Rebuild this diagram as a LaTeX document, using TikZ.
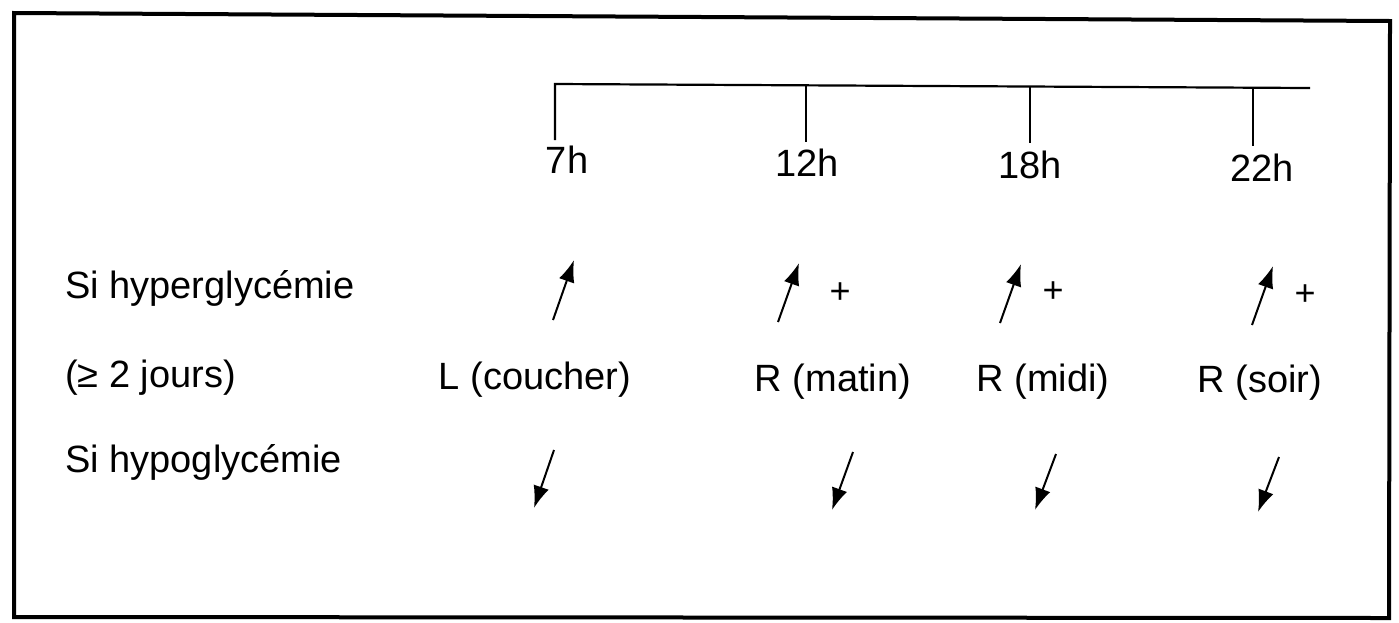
\documentclass[tikz,border=0pt]{standalone}
\usepackage{fontspec}
\setmainfont{Liberation Sans}
\usetikzlibrary{arrows.meta}
\begin{document}
\begin{tikzpicture}[x=1pt,y=-1pt,
  lbl/.style={font=\fontsize{38}{40}\selectfont, inner sep=0pt},
  rowlbl/.style={lbl, anchor=west},
  plus/.style={font=\fontsize{36}{38}\selectfont, inner sep=0pt},
  trend/.style={line width=2pt, -{Latex[length=22pt,width=16pt]}},
  axis/.style={line width=2.2pt},
  frame/.style={line width=4pt}]
\useasboundingbox (0,0) rectangle (1399,622);

% outer frame
\draw[frame] (14,13) -- (1390,21) -- (1389,618) -- (14,617) -- cycle;

% time axis and ticks
\coordinate (a0) at (555,84);
\coordinate (aend) at (1310,88);
\coordinate (t1) at (806,85);   \coordinate (b1) at (806,142);
\coordinate (t2) at (1030,86);  \coordinate (b2) at (1030,143);
\coordinate (t3) at (1253,87);  \coordinate (b3) at (1253,146);
\coordinate (b0) at (555,140);
\node[lbl] (h7)  at (567,160) {7h};
\node[lbl] (h12) at (807,163) {12h};
\node[lbl] (h18) at (1030,165) {18h};
\node[lbl] (h22) at (1262,168) {22h};
\draw[axis] (b0) -- (a0) -- (aend);
\draw[axis] (t1) -- (b1);
\draw[axis] (t2) -- (b2);
\draw[axis] (t3) -- (b3);

% row headings
\node[rowlbl] (hyper) at (65,288) {Si hyperglycémie};
\node[rowlbl] (jours) at (65,378) {(\symbol{"2265} 2 jours)};
\node[rowlbl] (hypo)  at (65,462) {Si hypoglycémie};

% insulin doses
\node[lbl] (L)  at (535,380) {L (coucher)};
\node[lbl] (Rm) at (833,382) {R (matin)};
\node[lbl] (Rd) at (1043,382) {R (midi)};
\node[lbl] (Rs) at (1260,383) {R (soir)};

% increase arrows
\coordinate (u1a) at (553,320); \coordinate (u1b) at (574,260);
\coordinate (u2a) at (778,322); \coordinate (u2b) at (799,263);
\coordinate (u3a) at (1000,323); \coordinate (u3b) at (1021,264);
\coordinate (u4a) at (1252,325); \coordinate (u4b) at (1273,266);
\draw[trend] (u1a) -- (u1b);
\draw[trend] (u2a) -- (u2b);
\draw[trend] (u3a) -- (u3b);
\draw[trend] (u4a) -- (u4b);
\node[plus] (p2) at (840,293) {+};
\node[plus] (p3) at (1053,292) {+};
\node[plus] (p4) at (1305,295) {+};

% decrease arrows
\coordinate (d1a) at (554,450); \coordinate (d1b) at (534,508);
\coordinate (d2a) at (853,452); \coordinate (d2b) at (832,510);
\coordinate (d3a) at (1056,454); \coordinate (d3b) at (1035,510);
\coordinate (d4a) at (1279,457); \coordinate (d4b) at (1258,512);
\draw[trend] (d1a) -- (d1b);
\draw[trend] (d2a) -- (d2b);
\draw[trend] (d3a) -- (d3b);
\draw[trend] (d4a) -- (d4b);
\end{tikzpicture}
\end{document}
